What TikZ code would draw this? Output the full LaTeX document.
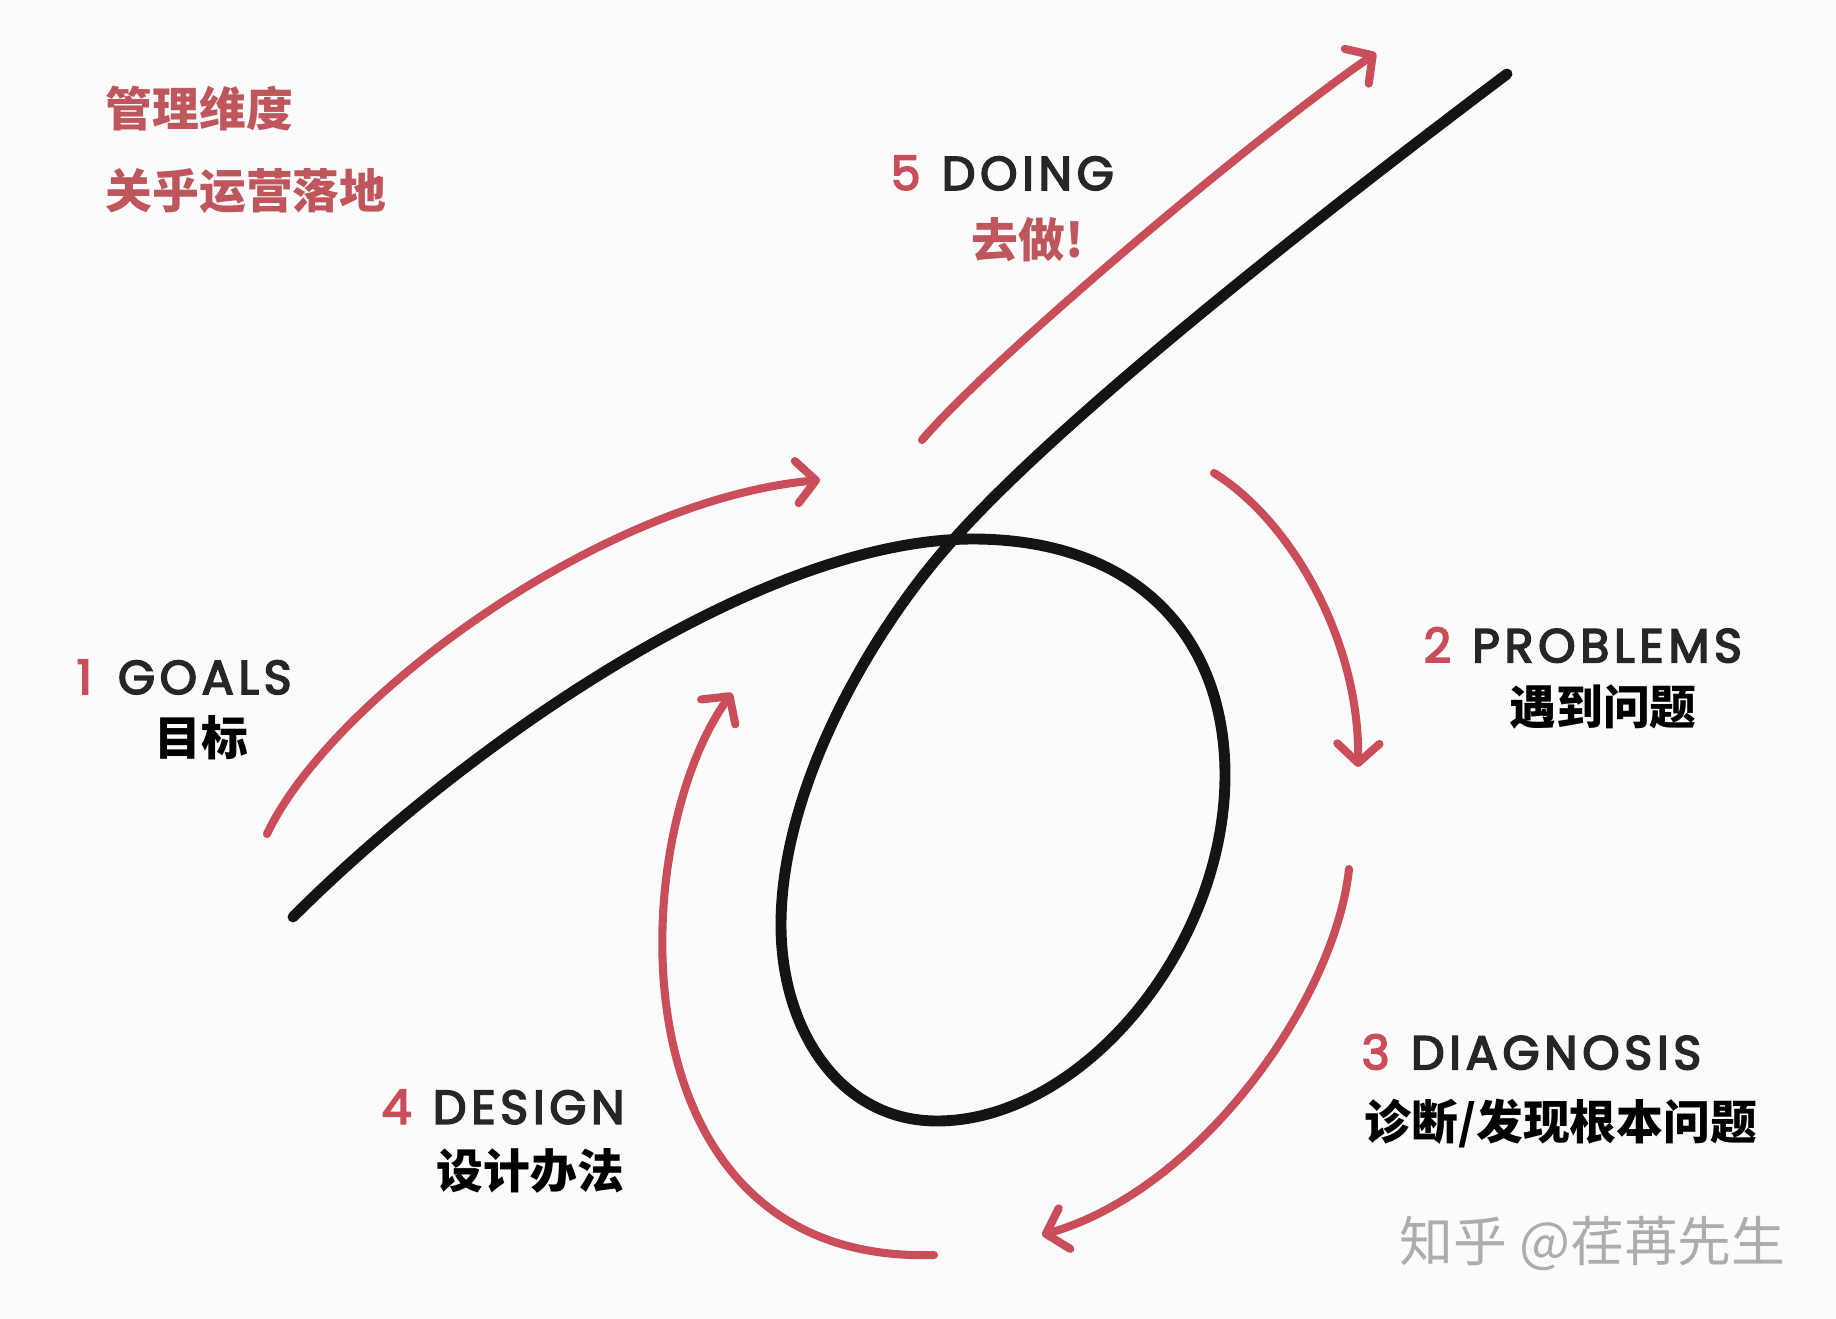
\documentclass[tikz,border=0pt]{standalone}
\usepackage{fontspec}
\usetikzlibrary{arrows.meta}
\newfontfamily\cjk{Noto Sans CJK SC}
\newfontfamily\geo{Poppins}[LetterSpace=10,FakeBold=3.6]
\definecolor{redc}{RGB}{201,78,90}
\definecolor{titlered}{RGB}{190,86,92}
\definecolor{dk}{RGB}{38,38,38}
\definecolor{bg}{RGB}{251,251,251}
\definecolor{wm}{RGB}{172,172,172}
\tikzset{
  loopline/.style={line width=3.1pt,black!92,line cap=round},
  redarrow/.style={line width=2.3pt,redc,line cap=round,
    -{Straight Barb[length=5.5pt,width=12pt,round]}},
  entxt/.style={inner sep=0pt,font=\geo\fontsize{13.5}{15}\selectfont,text=dk},
  cntxt/.style={inner sep=0pt,font=\cjk\bfseries\fontsize{13.3}{16}\selectfont,text=black},
  titletxt/.style={inner sep=0pt,font=\cjk\bfseries\fontsize{13.3}{16}\selectfont,text=titlered},
  wmtxt/.style={inner sep=0pt,font=\cjk\fontsize{15.3}{18}\selectfont,text=wm}
}
\begin{document}
\begin{tikzpicture}[x=0.01cm,y=-0.01cm]
\fill[bg] (0,0) rectangle (1836,1319);
\useasboundingbox (0,0) rectangle (1836,1319);

% titles
\node[titletxt,anchor=west] (t1) at (105,109) {管理维度};
\node[titletxt,anchor=west] (t2) at (105,191) {关乎运营落地};

% black loop curve
\coordinate (b0) at (293,917);
\coordinate (b1) at (972,539);
\coordinate (b2) at (1225,775);
\coordinate (b3) at (937,1121);
\coordinate (b4) at (781,925);
\coordinate (b5) at (954,539);
\coordinate (b6) at (1507,74);
\draw[loopline] (b0) .. controls (450,760) and (750,540) .. (b1)
  .. controls (1140,539) and (1225,640) .. (b2)
  .. controls (1225,950) and (1080,1121) .. (b3)
  .. controls (840,1121) and (781,1030) .. (b4)
  .. controls (781,780) and (880,620) .. (b5)
  .. controls (1060,420) and (1300,230) .. (b6);

% red arrows
\coordinate (r1s) at (267,834);  \coordinate (r1e) at (820,480);
\coordinate (r5s) at (922,440);  \coordinate (r5e) at (1376,53);
\coordinate (r2s) at (1214,473); \coordinate (r2e) at (1358,767);
\coordinate (r3s) at (1349,869); \coordinate (r3e) at (1042,1235);
\coordinate (r4s) at (934,1255); \coordinate (r4e) at (732,693);
\draw[redarrow] (r1s) .. controls (330,700) and (600,500) .. (r1e);
\draw[redarrow] (r5s) .. controls (990,360) and (1250,140) .. (r5e);
\draw[redarrow] (r2s) .. controls (1290,520) and (1360,640) .. (r2e);
\draw[redarrow] (r3s) .. controls (1335,1000) and (1200,1190) .. (r3e);
\draw[redarrow] (r4s) .. controls (610,1265) and (625,840) .. (r4e);

% labels
\node[entxt,anchor=west] (goals) at (76,677) {\textcolor{redc}{1}\hspace{0.55em}GOALS};
\node[cntxt] (goalscn) at (201,738) {目标};
\node[entxt,anchor=west] (prob) at (1423,645) {\textcolor{redc}{2}\hspace{0.45em}PROBLEMS};
\node[cntxt] (probcn) at (1603,707) {遇到问题};
\node[entxt,anchor=west] (diag) at (1361,1052) {\textcolor{redc}{3}\hspace{0.45em}DIAGNOSIS};
\node[cntxt,anchor=west] (diagcn) at (1364,1124) {诊断/发现根本问题};
\node[entxt,anchor=west] (design) at (381,1107) {\textcolor{redc}{4}\hspace{0.45em}DESIGN};
\node[cntxt,anchor=west] (designcn) at (436,1171) {设计办法};
\node[entxt,anchor=west] (doing) at (890,173) {\textcolor{redc}{5}\hspace{0.45em}DOING};
\node[titletxt] (doingcn) at (1028,240) {去做!};

% watermark
\node[wmtxt,anchor=west] (wmark) at (1399,1244) {知乎 @荏苒先生};
\end{tikzpicture}
\end{document}
